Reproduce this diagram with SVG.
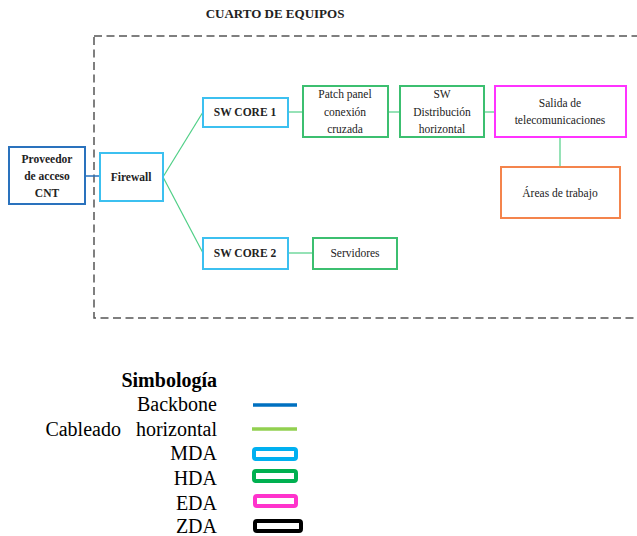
<svg xmlns="http://www.w3.org/2000/svg" width="637" height="536" viewBox="0 0 637 536">
<text x="275" y="18" font-family="Times New Roman, Liberation Serif, serif" font-size="13" font-weight="bold" text-anchor="middle" fill="#222">CUARTO DE EQUIPOS</text>
<rect x="94" y="36" width="560" height="282" fill="none" stroke="#555" stroke-width="1.5" stroke-dasharray="8 4.5"/>
<g id="connectors" fill="none">
<line x1="85" y1="176" x2="100" y2="176" stroke="#2a72bd" stroke-width="1.5"/>
<g stroke="#4fcf86" stroke-width="1.2">
<line x1="163" y1="177" x2="203" y2="112"/>
<line x1="163" y1="177" x2="203" y2="253"/>
<line x1="288" y1="112" x2="303" y2="112"/>
<line x1="388" y1="112" x2="400" y2="112"/>
<line x1="484" y1="112" x2="495" y2="112"/>
<line x1="288" y1="253" x2="313" y2="253"/>
<line x1="560" y1="137" x2="560" y2="167"/>
</g>
</g>
<g id="nodes" fill="#fff" stroke-width="2">
<g id="proveedor">
<rect x="9" y="147" width="76" height="57" stroke="#2a72bd"/>
<text font-family="Times New Roman, Liberation Serif, serif" font-size="11.5" font-weight="bold" text-anchor="middle" fill="#222" stroke="none" x="47" y="163">Proveedor</text>
<text font-family="Times New Roman, Liberation Serif, serif" font-size="11.5" font-weight="bold" text-anchor="middle" fill="#222" stroke="none" x="47" y="180">de acceso</text>
<text font-family="Times New Roman, Liberation Serif, serif" font-size="11.5" font-weight="bold" text-anchor="middle" fill="#222" stroke="none" x="47" y="197">CNT</text>
</g>
<g id="firewall">
<rect x="100" y="153" width="63" height="48" stroke="#3cc0f0"/>
<text font-family="Times New Roman, Liberation Serif, serif" font-size="11.5" font-weight="bold" text-anchor="middle" fill="#222" stroke="none" x="131" y="181">Firewall</text>
</g>
<g id="swcore1">
<rect x="203" y="98" width="85" height="29" stroke="#3cc0f0"/>
<text font-family="Times New Roman, Liberation Serif, serif" font-size="11.5" font-weight="bold" text-anchor="middle" fill="#222" stroke="none" x="245" y="116">SW CORE 1</text>
</g>
<g id="swcore2">
<rect x="203" y="238" width="85" height="31" stroke="#3cc0f0"/>
<text font-family="Times New Roman, Liberation Serif, serif" font-size="11.5" font-weight="bold" text-anchor="middle" fill="#222" stroke="none" x="245" y="257">SW CORE 2</text>
</g>
<g id="servidores">
<rect x="313" y="238" width="84" height="31" stroke="#3cbf70"/>
<text font-family="Times New Roman, Liberation Serif, serif" font-size="11.5" text-anchor="middle" fill="#222" stroke="none" x="355" y="257">Servidores</text>
</g>
<g id="patchpanel">
<rect x="303" y="86" width="85" height="51" stroke="#3cbf70"/>
<text font-family="Times New Roman, Liberation Serif, serif" font-size="11.5" text-anchor="middle" fill="#222" stroke="none" x="345" y="98">Patch panel</text>
<text font-family="Times New Roman, Liberation Serif, serif" font-size="11.5" text-anchor="middle" fill="#222" stroke="none" x="345" y="115.5">conexión</text>
<text font-family="Times New Roman, Liberation Serif, serif" font-size="11.5" text-anchor="middle" fill="#222" stroke="none" x="345" y="132.5">cruzada</text>
</g>
<g id="swdistribucion">
<rect x="400" y="86" width="84" height="51" stroke="#3cbf70"/>
<text font-family="Times New Roman, Liberation Serif, serif" font-size="11.5" text-anchor="middle" fill="#222" stroke="none" x="442" y="98">SW</text>
<text font-family="Times New Roman, Liberation Serif, serif" font-size="11.5" text-anchor="middle" fill="#222" stroke="none" x="442" y="115.5">Distribución</text>
<text font-family="Times New Roman, Liberation Serif, serif" font-size="11.5" text-anchor="middle" fill="#222" stroke="none" x="442" y="132.5">horizontal</text>
</g>
<g id="salida">
<rect x="495" y="86" width="131" height="51" stroke="#ff33ff"/>
<text font-family="Times New Roman, Liberation Serif, serif" font-size="11.5" text-anchor="middle" fill="#222" stroke="none" x="560" y="107">Salida de</text>
<text font-family="Times New Roman, Liberation Serif, serif" font-size="11.5" text-anchor="middle" fill="#222" stroke="none" x="560" y="124">telecomunicaciones</text>
</g>
<g id="areas">
<rect x="501" y="167" width="119" height="51" stroke="#f4844c"/>
<text font-family="Times New Roman, Liberation Serif, serif" font-size="11.5" text-anchor="middle" fill="#222" stroke="none" x="560" y="197">Áreas de trabajo</text>
</g>
</g>
<g id="legend">
<text font-family="Times New Roman, Liberation Serif, serif" font-size="20" text-anchor="end" font-weight="bold" x="217" y="387">Simbología</text>
<text font-family="Times New Roman, Liberation Serif, serif" font-size="20" text-anchor="end" x="217" y="411">Backbone</text>
<text font-family="Times New Roman, Liberation Serif, serif" font-size="20" text-anchor="end" x="217" y="436" xml:space="preserve">Cableado   horizontal</text>
<text font-family="Times New Roman, Liberation Serif, serif" font-size="20" text-anchor="end" x="217" y="460">MDA</text>
<text font-family="Times New Roman, Liberation Serif, serif" font-size="20" text-anchor="end" x="217" y="485">HDA</text>
<text font-family="Times New Roman, Liberation Serif, serif" font-size="20" text-anchor="end" x="217" y="510">EDA</text>
<text font-family="Times New Roman, Liberation Serif, serif" font-size="20" text-anchor="end" x="217" y="533">ZDA</text>
<line x1="253" y1="405" x2="297" y2="405" stroke="#0070c0" stroke-width="3.5"/>
<line x1="252" y1="429" x2="297" y2="429" stroke="#92d050" stroke-width="3.5"/>
<g fill="#fff" stroke-width="4">
<rect x="254" y="449" width="42" height="10" rx="2" stroke="#00b0f0"/>
<rect x="254" y="471" width="42" height="10" rx="2" stroke="#00b050"/>
<rect x="255" y="496" width="41" height="10" rx="2" stroke="#ff33cc"/>
<rect x="255" y="521" width="46" height="10" rx="2" stroke="#000"/>
</g>
</g>
</svg>
